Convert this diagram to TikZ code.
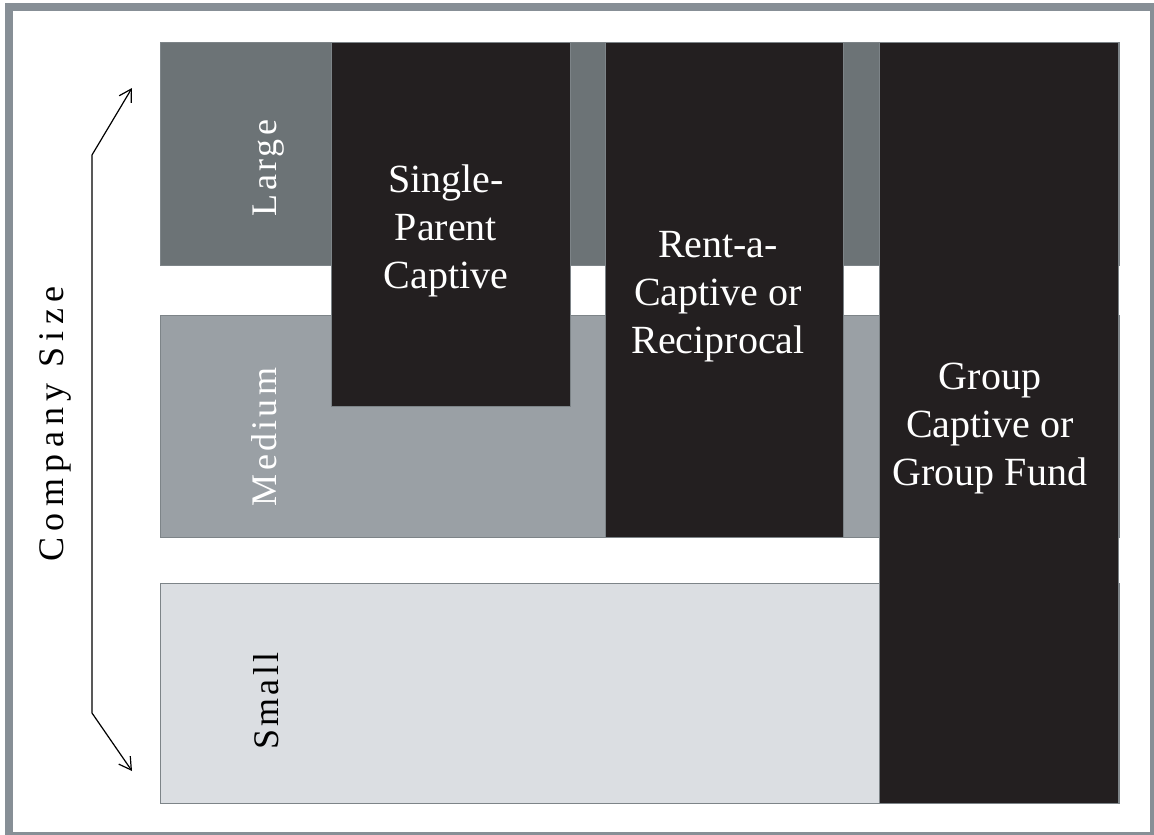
\documentclass[tikz,border=0pt]{standalone}
\usepackage{fontspec}
\setmainfont{Liberation Serif}
\newfontfamily\spacedserif[LetterSpace=9]{Liberation Serif}
\newfontfamily\widespaced[LetterSpace=18]{Liberation Serif}
\usetikzlibrary{arrows.meta}
\definecolor{frame}{HTML}{878F96}
\definecolor{large}{HTML}{6C7376}
\definecolor{medium}{HTML}{9AA0A5}
\definecolor{small}{HTML}{DBDEE2}
\definecolor{captive}{HTML}{231F20}
\definecolor{edge}{HTML}{7D8488}
\tikzset{
  box/.style={draw=edge, line width=1pt, rectangle, inner sep=0pt, outer sep=0pt},
  rowlabel/.style={rotate=90, anchor=base, font=\fontsize{36}{42}\spacedserif},
  boxlabel/.style={align=center, anchor=base, text=white, font=\fontsize{40}{48}\selectfont},
  sizearrow/.style={line width=1.2pt, {Straight Barb[length=12pt,width=14pt]}-{Straight Barb[length=12pt,width=14pt]}}
}
\begin{document}
\begin{tikzpicture}[x=1pt, y=-1pt]
\useasboundingbox (0,0) rectangle (1154,835);
\clip (0,0) rectangle (1154,835);
% outer frame
\draw[frame, line width=8pt] (9,7) rectangle (1154,836);

% company size bands
\node[box, fill=large,  minimum width=959pt, minimum height=223pt] (large)  at (639.5,153.5) {};
\node[box, fill=medium, minimum width=959pt, minimum height=222pt] (medium) at (639.5,426) {};
\node[box, fill=small,  minimum width=959pt, minimum height=220pt] (small)  at (639.5,693) {};

% captive types
\node[box, fill=captive, minimum width=239pt, minimum height=364pt] (single) at (450.5,224) {};
\node[box, fill=captive, minimum width=238pt, minimum height=495pt] (rent)   at (724,289.5) {};
\node[box, fill=captive, minimum width=239pt, minimum height=761pt] (group)  at (998.5,422.5) {};

% band labels
\node[rowlabel, text=white] (largelbl)  at (276,168) {Large};
\node[rowlabel, text=white] (mediumlbl) at (276,437) {Medium};
\node[rowlabel, text=black] (smalllbl)  at (278,701) {Small};

% captive labels (anchored at the baseline of the last line)
\node[boxlabel] (singlelbl) at (446,288) {Single-\\Parent\\Captive};
\node[boxlabel] (rentlbl)   at (718,353) {Rent-a-\\Captive or\\Reciprocal};
\node[boxlabel] (grouplbl)  at (990,485) {Group\\Captive or\\Group Fund};

% size axis
\coordinate (uptip) at (132,88);
\coordinate (upbend) at (92,155);
\coordinate (downbend) at (92,713);
\coordinate (downtip) at (132,771);
\draw[sizearrow] (uptip) -- (upbend) -- (downbend) -- (downtip);
\node[rotate=90, anchor=base, font=\fontsize{36}{42}\widespaced] (axislbl) at (63,424) {Company Size};
\end{tikzpicture}
\end{document}
